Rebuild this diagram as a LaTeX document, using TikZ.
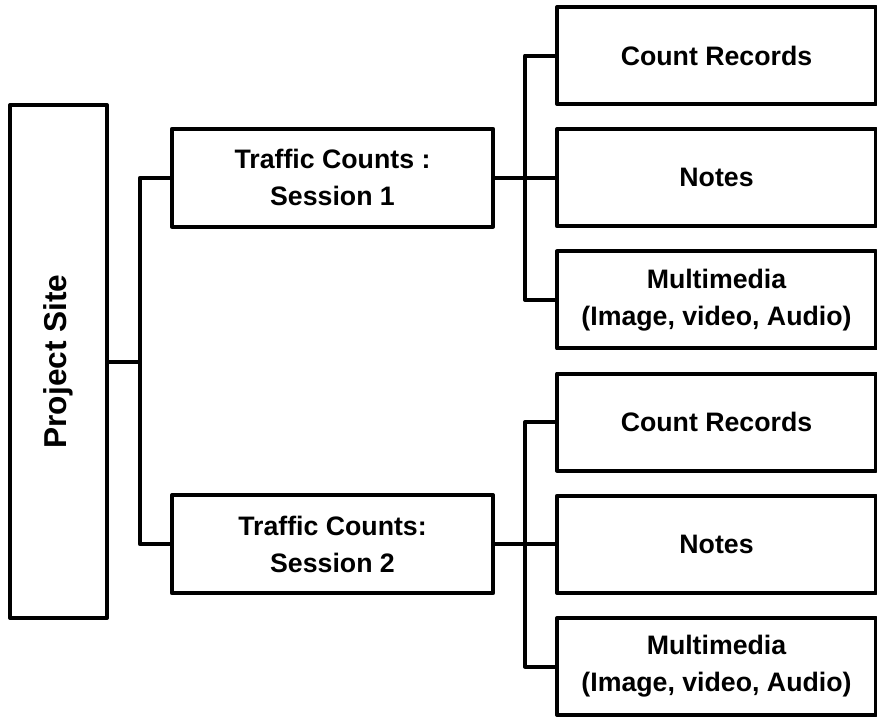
\documentclass[tikz,border=0pt]{standalone}
\usepackage{fontspec}
\setmainfont{Liberation Sans}
\usetikzlibrary{positioning}

\begin{document}
\begin{tikzpicture}[
    block/.style={draw, line width=0.1cm, line join=round, outer sep=0pt,
        align=center, font=\fontsize{19}{26.3}\selectfont\bfseries},
    leaf/.style={block, minimum width=7.975cm, minimum height=2.425cm},
    session/.style={block, minimum width=8.025cm, minimum height=2.45cm},
    link/.style={line width=0.1cm, line join=round},
    node distance=0.63cm
]
\useasboundingbox (0,0) rectangle (21.925,-17.925);

% Project site
\node[block,
    minimum width=2.425cm,
    minimum height=12.825cm
] (site) at (1.4625,-9.0375) {};
\node[rotate=90, font=\fontsize{22.5}{27}\selectfont\bfseries] (sitelabel) at (site.center) {Project Site};

% Session 1 items
\node[leaf] (rec1) at (17.9125,-1.3875) {Count Records};
\node[leaf, below=of rec1] (notes1) {Notes};
\node[leaf, below=of notes1] (media1) {Multimedia\\(Image, video, Audio)};

% Session 2 items
\node[leaf, below=of media1] (rec2) {Count Records};
\node[leaf, below=of rec2] (notes2) {Notes};
\node[leaf, below=of notes2] (media2) {Multimedia\\(Image, video, Audio)};

% Sessions
\node[session, left=1.6cm of notes1] (sess1) {Traffic Counts :\\Session 1};
\node[session, left=1.6cm of notes2] (sess2) {Traffic Counts:\\Session 2};

% Connectors
\coordinate (ljoin) at (3.5,-9.0375);
\coordinate (rjoin1) at (13.125,-4.5);
\coordinate (rjoin2) at (13.125,-13.6);

\draw[link] (site.east) -- (ljoin);
\draw[link] (sess1.west) -| (ljoin) |- (sess2.west);

\draw[link] (sess1.east) -- (notes1.west);
\draw[link] (rec1.west) -| (rjoin1) |- (media1.west);

\draw[link] (sess2.east) -- (notes2.west);
\draw[link] (rec2.west) -| (rjoin2) |- (media2.west);

\end{tikzpicture}
\end{document}
